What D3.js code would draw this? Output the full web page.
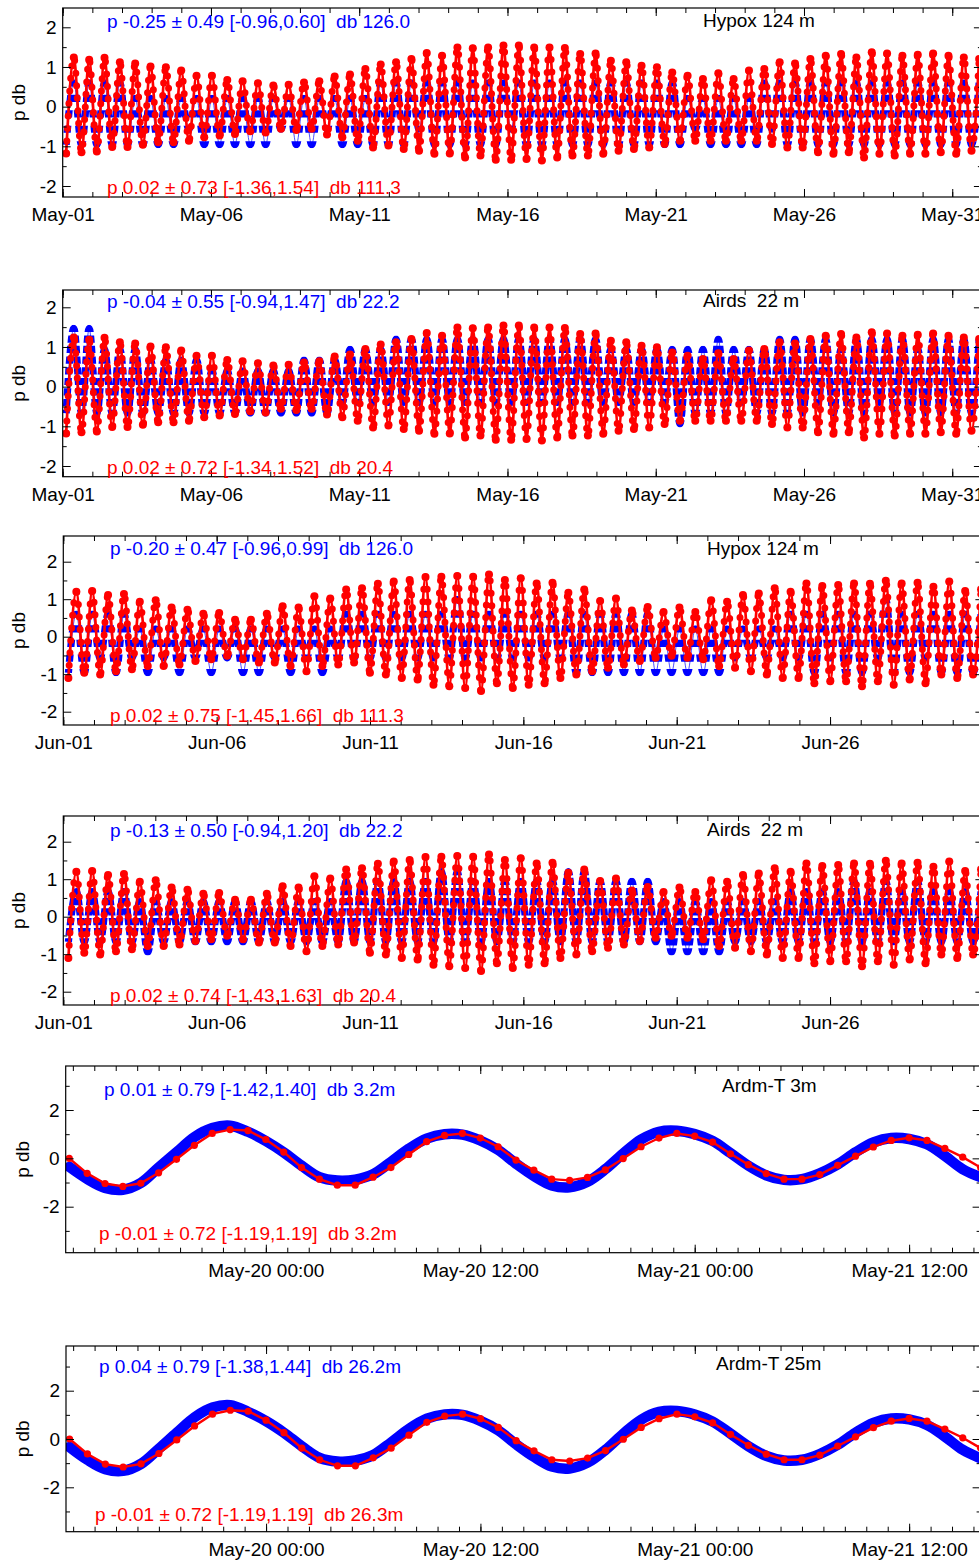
<!DOCTYPE html>
<html>
<head>
<meta charset="utf-8">
<script src="https://cdn.jsdelivr.net/npm/d3@7"></script>
<style>
  body { margin: 0; background: #fff; }
  svg text { font-family: "Liberation Sans", Arial, Helvetica, sans-serif; white-space: pre; }
</style>
</head>
<body>
<svg id="chart" width="979" height="1562"></svg>
<script>
// ---- data: tidal highs / lows (one pair per M2 cycle) ----
const mayPredHigh = [1.24,1.18,1.23,1.12,1.09,1.01,0.99,0.91,0.78,0.78,
  0.67,0.64,0.59,0.53,0.55,0.61,0.64,0.76,0.81,0.95,
  1.06,1.12,1.20,1.35,1.28,1.49,1.47,1.49,1.54,1.54,
  1.49,1.49,1.48,1.33,1.34,1.16,1.12,1.03,0.99,0.86,
  0.78,0.70,0.84,0.70,0.91,0.95,1.12,1.09,1.20,1.28,
  1.33,1.24,1.37,1.34,1.28,1.31,1.34,1.28,1.24,1.20];
const mayPredLow = [-1.18,-1.15,-1.13,-1.02,-1.02,-0.96,-0.90,-0.90,-0.86,-0.77,
  -0.73,-0.69,-0.62,-0.65,-0.56,-0.59,-0.56,-0.70,-0.77,-0.86,
  -1.03,-0.98,-1.07,-1.11,-1.19,-1.18,-1.28,-1.23,-1.34,-1.34,
  -1.32,-1.36,-1.28,-1.23,-1.23,-1.19,-1.11,-1.07,-1.03,-0.94,
  -0.86,-0.86,-0.86,-0.86,-0.86,-0.86,-0.94,-1.03,-1.03,-1.15,
  -1.19,-1.15,-1.28,-1.19,-1.23,-1.19,-1.19,-1.15,-1.19,-1.11];
const junPredHigh = [1.20,1.22,1.11,1.14,0.93,0.97,0.78,0.72,0.61,0.63,
  0.45,0.45,0.61,0.81,0.78,1.08,1.02,1.26,1.29,1.41,
  1.47,1.51,1.59,1.60,1.62,1.60,1.66,1.51,1.56,1.42,
  1.44,1.17,1.26,0.95,1.02,0.70,0.79,0.66,0.78,0.66,
  0.97,0.93,1.11,1.15,1.29,1.20,1.42,1.35,1.38,1.42,
  1.41,1.49,1.42,1.44,1.33,1.47,1.22,1.26];
const junPredLow = [-1.10,-0.96,-1.01,-0.92,-0.87,-0.78,-0.78,-0.74,-0.65,-0.60,
  -0.51,-0.60,-0.69,-0.69,-0.78,-0.92,-0.78,-0.74,-0.69,-0.96,
  -1.01,-1.10,-1.14,-1.28,-1.32,-1.37,-1.45,-1.24,-1.37,-1.28,
  -1.24,-1.10,-1.01,-0.92,-0.83,-0.74,-0.65,-0.56,-0.51,-0.56,
  -0.60,-0.78,-0.83,-0.92,-1.01,-1.10,-1.10,-1.24,-1.19,-1.19,
  -1.32,-1.19,-1.28,-1.14,-1.24,-1.01,-1.10,-1.01];

// measured (quantised) pressure, highs / lows per cycle
const hypoxLevels = [-0.96,-0.57,-0.18,0.21,0.60,0.99];
const airdsLevels = [-0.94,-0.67,-0.40,-0.13,0.13,0.40,0.67,0.94,1.20,1.47];
const hypoxMayHigh = [0.60,0.60,0.60,0.60,0.21,0.21,0.21,0.21,0.21,0.21,
  0.21,0.21,0.21,0.21,0.21,0.21,0.21,0.21,0.21,0.21,
  0.60,0.60,0.60,0.60,0.60,0.60,0.60,0.60,0.60,0.60,
  0.60,0.60,0.60,0.60,0.60,0.60,0.60,0.60,0.60,0.60,
  0.21,0.21,0.21,0.21,0.21,0.60,0.60,0.60,0.60,0.60,
  0.60,0.60,0.60,0.60,0.60,0.60,0.60,0.60,0.60,0.60];
const hypoxMayLow = [-0.96,-0.96,-0.96,-0.96,-0.96,-0.96,-0.96,-0.96,-0.57,-0.96,
  -0.96,-0.96,-0.96,-0.96,-0.57,-0.96,-0.96,-0.57,-0.96,-0.96,
  -0.96,-0.96,-0.96,-0.57,-0.96,-0.96,-0.96,-0.96,-0.96,-0.57,
  -0.96,-0.96,-0.96,-0.96,-0.96,-0.96,-0.96,-0.96,-0.96,-0.96,
  -0.96,-0.57,-0.96,-0.96,-0.96,-0.96,-0.57,-0.96,-0.96,-0.96,
  -0.96,-0.96,-0.96,-0.96,-0.96,-0.96,-0.96,-0.96,-0.96,-0.96];
const airdsMayHigh = [1.47,1.47,0.94,0.94,0.94,0.67,0.67,0.67,0.67,0.40,
  0.40,0.40,0.40,0.40,0.40,0.67,0.67,0.67,0.94,0.94,
  0.94,1.20,1.20,1.20,1.20,1.20,1.20,1.20,1.20,1.20,
  1.20,1.20,1.20,1.20,1.20,0.94,0.94,0.94,0.94,0.94,
  0.94,0.94,1.20,0.94,0.94,0.94,1.20,1.20,1.20,1.20,
  0.94,1.20,1.20,1.20,1.20,0.94,1.20,1.20,1.20,1.20];
const airdsMayLow = [-0.67,-0.67,-0.67,-0.67,-0.67,-0.67,-0.67,-0.67,-0.67,-0.67,
  -0.67,-0.67,-0.67,-0.67,-0.67,-0.67,-0.67,-0.67,-0.40,-0.40,
  -0.40,-0.40,-0.40,-0.40,-0.40,-0.40,-0.40,-0.40,-0.40,-0.40,
  -0.40,-0.40,-0.40,-0.40,-0.40,-0.40,-0.40,-0.40,-0.40,-0.40,
  -0.94,-0.67,-0.67,-0.67,-0.40,-0.67,-0.67,-0.67,-0.67,-0.40,
  -0.67,-0.67,-0.67,-0.40,-0.67,-0.67,-0.67,-0.67,-0.67,-0.67];
const hypoxJunHigh = [0.60,0.60,0.60,0.60,0.21,0.21,0.21,0.21,0.21,0.21,
  0.21,0.21,0.21,0.21,0.21,0.21,0.21,0.60,0.60,0.60,
  0.60,0.60,0.60,0.60,0.99,0.60,0.60,0.60,0.60,0.60,
  0.60,0.60,0.60,0.60,0.60,0.60,0.60,0.21,0.21,0.21,
  0.21,0.21,0.21,0.21,0.21,0.60,0.60,0.60,0.60,0.60,
  0.60,0.99,0.60,0.60,0.60,0.60,0.60,0.60];
const hypoxJunLow = [-0.96,-0.96,-0.57,-0.96,-0.57,-0.96,-0.57,-0.96,-0.57,-0.96,
  -0.57,-0.96,-0.96,-0.57,-0.96,-0.57,-0.96,-0.57,-0.57,-0.57,
  -0.57,-0.57,-0.57,-0.57,-0.57,-0.57,-0.57,-0.57,-0.57,-0.57,
  -0.57,-0.57,-0.96,-0.96,-0.96,-0.96,-0.96,-0.96,-0.96,-0.96,
  -0.96,-0.96,-0.57,-0.57,-0.57,-0.57,-0.57,-0.96,-0.57,-0.96,
  -0.96,-0.57,-0.96,-0.96,-0.57,-0.96,-0.96,-0.96];
const airdsJunHigh = [0.67,0.67,0.67,0.67,0.40,0.40,0.40,0.40,0.40,0.40,
  0.40,0.40,0.40,0.40,0.40,0.40,0.40,0.94,0.94,0.94,
  0.94,0.94,0.94,1.20,1.20,0.94,0.94,0.94,0.94,0.94,
  0.94,1.20,1.20,0.94,0.94,0.94,0.94,0.40,0.40,0.40,
  0.40,0.40,0.40,0.40,0.40,0.67,0.67,0.67,0.67,0.94,
  0.67,0.94,0.67,0.94,0.67,0.67,0.67,0.67];
const airdsJunLow = [-0.67,-0.67,-0.67,-0.67,-0.67,-0.94,-0.67,-0.67,-0.67,-0.67,
  -0.67,-0.67,-0.67,-0.67,-0.67,-0.67,-0.67,-0.67,-0.67,-0.67,
  -0.67,-0.67,-0.67,-0.67,-0.67,-0.67,-0.67,-0.67,-0.67,-0.67,
  -0.67,-0.67,-0.67,-0.67,-0.67,-0.67,-0.67,-0.67,-0.94,-0.94,
  -0.94,-0.94,-0.67,-0.67,-0.67,-0.67,-0.67,-0.67,-0.67,-0.67,
  -0.67,-0.67,-0.67,-0.67,-0.67,-0.67,-0.67,-0.67];

// Ardmore two-day zoom, hourly values from 11h before May-20 00:00
const ardmPredHourly = [0.00,-0.62,-1.04,-1.16,-1.03,-0.60,-0.04,0.54,1.03,1.19,1.15,
  0.78,0.26,-0.38,-0.86,-1.11,-1.11,-0.78,-0.38,0.16,0.69,0.95,1.03,0.84,0.48,-0.07,
  -0.49,-0.86,-0.91,-0.79,-0.48,-0.01,0.48,0.84,1.03,0.92,0.67,0.19,-0.26,-0.63,-0.86,
  -0.86,-0.67,-0.29,0.09,0.47,0.74,0.85,0.74,0.41,0.05,-0.38];
const ardm3Hourly = [-0.35,-0.85,-1.22,-1.30,-1.02,-0.38,0.25,0.88,1.25,1.35,1.10,
  0.72,0.25,-0.30,-0.78,-0.92,-0.88,-0.66,-0.15,0.40,0.82,1.00,0.98,0.74,0.35,-0.22,
  -0.73,-1.12,-1.20,-0.97,-0.45,0.20,0.78,1.10,1.14,1.00,0.72,0.22,-0.30,-0.70,-0.89,
  -0.86,-0.62,-0.25,0.25,0.66,0.84,0.80,0.58,0.10,-0.45,-0.78];
const ardm25Hourly = [-0.33,-0.86,-1.25,-1.32,-1.03,-0.40,0.26,0.90,1.30,1.40,1.12,
  0.74,0.26,-0.30,-0.78,-0.93,-0.89,-0.66,-0.14,0.42,0.84,1.02,1.00,0.75,0.36,-0.22,
  -0.74,-1.14,-1.22,-0.98,-0.45,0.22,0.80,1.12,1.16,1.01,0.72,0.22,-0.30,-0.70,-0.89,
  -0.86,-0.62,-0.24,0.26,0.67,0.85,0.81,0.58,0.10,-0.45,-0.80];

const panelTexts = [
  ["p -0.25 \u00b1 0.49 [-0.96,0.60]  db 126.0", "p 0.02 \u00b1 0.73 [-1.36,1.54]  db 111.3", "Hypox 124 m"],
  ["p -0.04 \u00b1 0.55 [-0.94,1.47]  db 22.2", "p 0.02 \u00b1 0.72 [-1.34,1.52]  db 20.4", "Airds  22 m"],
  ["p -0.20 \u00b1 0.47 [-0.96,0.99]  db 126.0", "p 0.02 \u00b1 0.75 [-1.45,1.66]  db 111.3", "Hypox 124 m"],
  ["p -0.13 \u00b1 0.50 [-0.94,1.20]  db 22.2", "p 0.02 \u00b1 0.74 [-1.43,1.63]  db 20.4", "Airds  22 m"],
  ["p 0.01 \u00b1 0.79 [-1.42,1.40]  db 3.2m", "p -0.01 \u00b1 0.72 [-1.19,1.19]  db 3.2m", "Ardm-T 3m"],
  ["p 0.04 \u00b1 0.79 [-1.38,1.44]  db 26.2m", "p -0.01 \u00b1 0.72 [-1.19,1.19]  db 26.3m", "Ardm-T 25m"]
];
const mayLabelDays = [1, 6, 11, 16, 21, 26, 31];
const junLabelDays = [1, 6, 11, 16, 21, 26];
const zoomLabelHours = [0, 12, 24, 36];

// ---- layout ----
const HOUR = 3600e3, M2 = 12.42, FS = 19;
const BLUE = "#0000ff", RED = "#ff0000";
const may1 = Date.UTC(2010, 4, 1), jun1 = Date.UTC(2010, 5, 1), jul1 = Date.UTC(2010, 6, 1);
const may20 = Date.UTC(2010, 4, 20);

const monthPanels = [
  {top: 8, bottom: 197, y2: 27.3, ym2: 186, x0: 62.7, x1: 981.9, t0: may1, t1: jun1, hw: 9.0, days: mayLabelDays,
   pred: [mayPredHigh, mayPredLow], obs: [hypoxMayHigh, hypoxMayLow], levels: hypoxLevels,
   txt: panelTexts[0], tx: 107, lx: 703, by: 27.5, ry: 193.5, ly: 26.5},
  {top: 290, bottom: 476.7, y2: 307.3, ym2: 466, x0: 62.7, x1: 981.9, t0: may1, t1: jun1, hw: 9.0, days: mayLabelDays,
   pred: [mayPredHigh, mayPredLow], obs: [airdsMayHigh, airdsMayLow], levels: airdsLevels,
   txt: panelTexts[1], tx: 107, lx: 703, by: 307.5, ry: 473.5, ly: 306.5},
  {top: 536, bottom: 725, y2: 561.7, ym2: 711.7, x0: 63.3, x1: 983.4, t0: jun1, t1: jul1, hw: 10.2, days: junLabelDays,
   pred: [junPredHigh, junPredLow], obs: [hypoxJunHigh, hypoxJunLow], levels: hypoxLevels,
   txt: panelTexts[2], tx: 110, lx: 707, by: 554.5, ry: 721.5, ly: 554.5},
  {top: 816, bottom: 1005, y2: 841.7, ym2: 991.7, x0: 63.3, x1: 983.4, t0: jun1, t1: jul1, hw: 10.2, days: junLabelDays,
   pred: [junPredHigh, junPredLow], obs: [airdsJunHigh, airdsJunLow], levels: airdsLevels,
   txt: panelTexts[3], tx: 110, lx: 707, by: 836.5, ry: 1001.5, ly: 835.5}
];
const zoomPanels = [
  {top: 1066, bottom: 1252.7, y2: 1110, ym2: 1206.7, x0: 65.7, x1: 980.6,
   obs: ardm3Hourly, pred: ardmPredHourly, txt: panelTexts[4], tx: 104, rx: 99, lx: 722, by: 1095.5, ry: 1239.5, ly: 1091.5},
  {top: 1346, bottom: 1531.7, y2: 1390.7, ym2: 1487.3, x0: 66, x1: 980.6,
   obs: ardm25Hourly, pred: ardmPredHourly, txt: panelTexts[5], tx: 99, rx: 95, lx: 716, by: 1372.5, ry: 1520.5, ly: 1369.5}
];
const zoomStartH = -11.2, zoomEndH = 40, firstSampleH = -11;

const svg = d3.select("#chart");
const defs = svg.append("defs");

function addAxis(g, axis, tx, ty) {
  const a = g.append("g").attr("transform", `translate(${tx},${ty})`).call(axis);
  a.attr("font-size", null).attr("font-family", null);
  a.select(".domain").remove();
  a.selectAll("line").attr("stroke", "#000");
  a.selectAll("text").attr("font-size", FS).attr("fill", "#000");
  return a;
}

function frame(g, p, x, y, majorX, minorX, fmt, majorY, minorY) {
  g.append("rect").attr("x", p.x0).attr("y", p.top)
    .attr("width", p.x1 - p.x0).attr("height", p.bottom - p.top)
    .attr("fill", "none").attr("stroke", "#000").attr("stroke-width", 1.2);
  addAxis(g, d3.axisBottom(x).tickValues(majorX).tickSize(-8).tickPadding(11).tickFormat(fmt), 0, p.bottom);
  addAxis(g, d3.axisBottom(x).tickValues(minorX).tickSize(-5).tickFormat(""), 0, p.bottom);
  addAxis(g, d3.axisTop(x).tickValues(majorX).tickSize(-8).tickFormat(""), 0, p.top);
  addAxis(g, d3.axisTop(x).tickValues(minorX).tickSize(-5).tickFormat(""), 0, p.top);
  addAxis(g, d3.axisLeft(y).tickValues(majorY).tickSize(-8).tickPadding(6).tickFormat(d => String(d)), p.x0, 0);
  addAxis(g, d3.axisLeft(y).tickValues(minorY).tickSize(-4).tickFormat(""), p.x0, 0);
  addAxis(g, d3.axisRight(y).tickValues(majorY).tickSize(-8).tickFormat(""), p.x1, 0);
  addAxis(g, d3.axisRight(y).tickValues(minorY).tickSize(-4).tickFormat(""), p.x1, 0);
}

function labels(g, p, ylabX) {
  g.append("text").attr("x", p.tx).attr("y", p.by).attr("fill", BLUE).attr("font-size", FS).text(p.txt[0]);
  g.append("text").attr("x", p.rx || p.tx).attr("y", p.ry).attr("fill", RED).attr("font-size", FS).text(p.txt[1]);
  g.append("text").attr("x", p.lx).attr("y", p.ly).attr("fill", "#000").attr("font-size", FS).text(p.txt[2]);
  g.append("text").attr("transform", `translate(${ylabX},${(p.top + p.bottom) / 2}) rotate(-90)`)
    .attr("text-anchor", "middle").attr("font-size", FS).attr("fill", "#000").text("p db");
}

function cycles(p, highs, lows) {
  const pts = [];
  highs.forEach((h, i) => {
    pts.push({t: new Date(p.t0 + (p.hw - M2 / 2 + i * M2) * HOUR), v: lows[i]});
    pts.push({t: new Date(p.t0 + (p.hw + i * M2) * HOUR), v: h});
  });
  return pts;
}

monthPanels.forEach((p, k) => {
  const g = svg.append("g");
  const x = d3.scaleUtc().domain([p.t0, p.t1]).range([p.x0, p.x1]);
  const y = d3.scaleLinear().domain([-2, 2]).range([p.ym2, p.y2]);

  const clipId = "plot" + k, bandId = "band" + k;
  defs.append("clipPath").attr("id", clipId).append("rect")
    .attr("x", p.x0).attr("y", p.top).attr("width", p.x1 - p.x0).attr("height", p.bottom - p.top);
  defs.append("clipPath").attr("id", bandId).selectAll("rect").data(p.levels).join("rect")
    .attr("x", p.x0).attr("width", p.x1 - p.x0)
    .attr("y", d => y(d) - 3.6).attr("height", 7.2);

  const line = d3.line().x(d => x(d.t)).y(d => y(d.v)).curve(d3.curveMonotoneX);
  const obs = cycles(p, p.obs[0], p.obs[1]);
  const pred = cycles(p, p.pred[0], p.pred[1]);

  const plot = g.append("g").attr("clip-path", `url(#${clipId})`);
  plot.append("path").attr("d", line(obs)).attr("fill", "none")
    .attr("stroke", BLUE).attr("stroke-width", 1).attr("opacity", 0.7);
  plot.append("g").attr("clip-path", `url(#${bandId})`)
    .append("path").attr("d", line(obs)).attr("fill", "none")
    .attr("stroke", BLUE).attr("stroke-width", 7.2);

  plot.append("path").attr("d", line(pred)).attr("fill", "none")
    .attr("stroke", RED).attr("stroke-width", 2.7);
  plot.append("path").attr("d", line(pred)).attr("fill", "none")
    .attr("stroke", RED).attr("stroke-width", 7)
    .attr("stroke-linecap", "round").attr("stroke-dasharray", "0 12.5");
  plot.selectAll("circle").data(pred).join("circle")
    .attr("cx", d => x(d.t)).attr("cy", d => y(d.v)).attr("r", 4).attr("fill", RED);

  const majorX = p.days.map(d => new Date(p.t0 + (d - 1) * 24 * HOUR));
  const minorX = d3.utcDay.range(new Date(p.t0), new Date(p.t1));
  frame(g, p, x, y, majorX, minorX, d3.utcFormat("%b-%d"), [-2, -1, 0, 1, 2], [-1.5, -0.5, 0.5, 1.5]);
  labels(g, p, 25);
});

zoomPanels.forEach((p, k) => {
  const g = svg.append("g");
  const x = d3.scaleUtc().domain([new Date(may20 + zoomStartH * HOUR), new Date(may20 + zoomEndH * HOUR)])
    .range([p.x0, p.x1]);
  const y = d3.scaleLinear().domain([-2, 2]).range([p.ym2, p.y2]);
  const clipId = "zplot" + k;
  defs.append("clipPath").attr("id", clipId).append("rect")
    .attr("x", p.x0).attr("y", p.top).attr("width", p.x1 - p.x0).attr("height", p.bottom - p.top);

  const toPts = arr => arr.map((v, i) => ({t: new Date(may20 + (firstSampleH + i) * HOUR), v}));
  const obs = toPts(p.obs), pred = toPts(p.pred);
  const plot = g.append("g").attr("clip-path", `url(#${clipId})`);
  plot.append("path")
    .attr("d", d3.line().x(d => x(d.t)).y(d => y(d.v)).curve(d3.curveCatmullRom)(obs))
    .attr("fill", "none").attr("stroke", BLUE).attr("stroke-width", 10.5)
    .attr("stroke-linecap", "round").attr("stroke-linejoin", "round");
  plot.append("path")
    .attr("d", d3.line().x(d => x(d.t)).y(d => y(d.v))(pred))
    .attr("fill", "none").attr("stroke", RED).attr("stroke-width", 2.4);
  plot.selectAll("circle").data(pred).join("circle")
    .attr("cx", d => x(d.t)).attr("cy", d => y(d.v)).attr("r", 3.6).attr("fill", RED);

  const majorX = zoomLabelHours.map(h => new Date(may20 + h * HOUR));
  const minorX = d3.range(-9, 34).map(j => new Date(may20 + j * 1.2 * HOUR));
  frame(g, p, x, y, majorX, minorX, d3.utcFormat("%b-%d %H:%M"), [-2, 0, 2], [-3, -1, 1, 3]);
  labels(g, p, 29);
});
</script>
</body>
</html>
